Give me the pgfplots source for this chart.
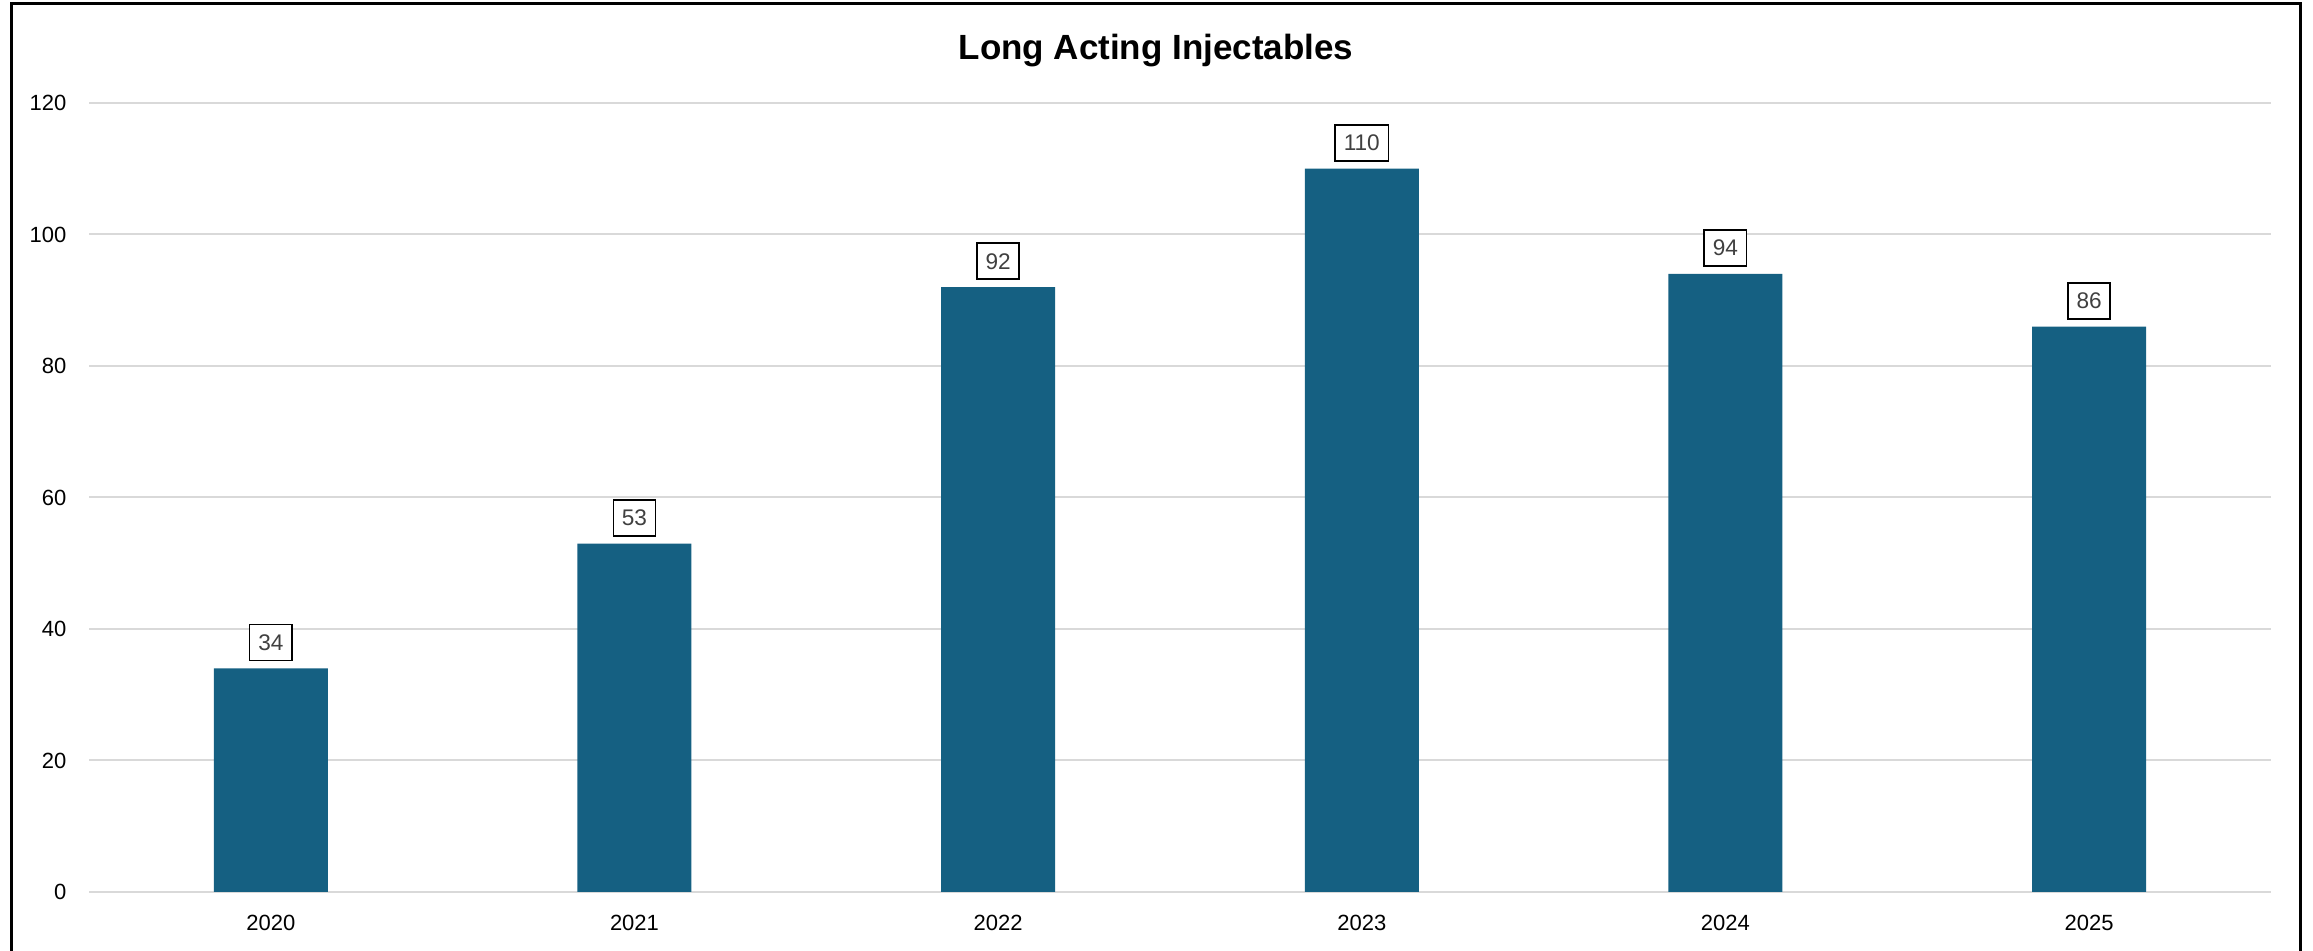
\documentclass[border=0pt]{standalone}
\usepackage{fontspec}
\setmainfont{Liberation Sans}
\usepackage{pgfplots}
\pgfplotsset{compat=1.18}
\definecolor{barblue}{HTML}{156082}
\definecolor{gridgray}{HTML}{D9D9D9}
\definecolor{labelgray}{HTML}{404040}

\begin{document}
\begin{tikzpicture}
  \useasboundingbox (0,0) rectangle (1156.5pt,475.5pt);
  % chart frame (bottom edge is cut off in the original)
  \draw[line width=1.5pt] (5.5pt,-5pt) -- (5.5pt,473.5pt) -- (1150pt,473.5pt) -- (1150pt,-5pt);
  \node[anchor=base, font=\bfseries\fontsize{17.5}{20}\selectfont] at (578pt,445.5pt) {Long Acting Injectables};
  \begin{axis}[
      at={(44.5pt,29.5pt)}, anchor=south west,
      scale only axis,
      width=1091pt, height=394.5pt,
      ybar, bar width=57pt,
      xmin=-0.5, xmax=5.5,
      ymin=0, ymax=120,
      xtick=data,
      xticklabels={2020,2021,2022,2023,2024,2025},
      ytick={0,20,...,120},
      ymajorgrids,
      grid style={gridgray, line width=1pt},
      axis line style={draw=none},
      major tick length=0pt,
      tick label style={font=\fontsize{11}{13}\selectfont, text=black},
      xticklabel style={yshift=-8pt},
      yticklabel style={xshift=-7.8pt},
      /pgf/number format/assume math mode=true,
      nodes near coords,
      every node near coord/.append style={
        font=\fontsize{11.3}{13}\selectfont,
        text=labelgray,
        draw=black, line width=0.8pt, fill=white,
        inner xsep=4.3pt, inner ysep=5pt,
        yshift=3.5pt
      },
      clip=false
    ]
    \addplot[fill=barblue, draw=none] coordinates {
      (0,34) (1,53) (2,92) (3,110) (4,94) (5,86)
    };
  \end{axis}
\end{tikzpicture}
\end{document}
